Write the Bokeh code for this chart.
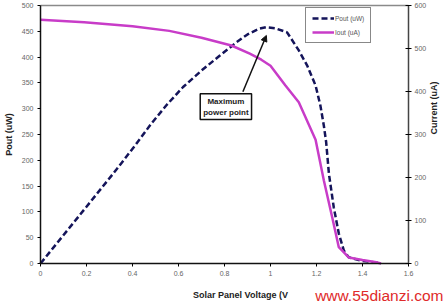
import math
from bokeh.plotting import figure
from bokeh.models import (LinearAxis, Range1d, Label, Arrow, NormalHead, Legend, LegendItem,
                          NumeralTickFormatter, FixedTicker)
from bokeh.embed import file_html
from bokeh.resources import INLINE

# ---- data ----
voltage_p = [0, 0.2, 0.33, 0.41, 0.48, 0.55, 0.62, 0.7, 0.78, 0.85, 0.9, 0.95, 0.98, 1.02, 1.072,
             1.123, 1.159, 1.196, 1.217, 1.232, 1.242, 1.254, 1.275, 1.297, 1.319, 1.34, 1.40, 1.46, 1.48]
pout_uw = [0, 110, 182, 228, 270, 308, 342, 374, 403, 428, 444, 455, 458, 456, 448,
           413, 384, 345, 306, 267, 235, 174, 109, 58, 25, 12, 5, 2, 0]

voltage_i = [0, 0.19, 0.4, 0.56, 0.7, 0.83, 0.91, 0.96, 1.0, 1.065, 1.123, 1.196, 1.232, 1.268,
             1.297, 1.34, 1.40, 1.46, 1.48]
iout_ua = [567, 561, 552, 541, 525, 507, 488, 474, 460, 414, 375, 288, 193, 108,
           38, 14, 8, 3, 0]

x_ticks = [0, 0.2, 0.4, 0.6, 0.8, 1.0, 1.2, 1.4, 1.6]
left_ticks = [0, 50, 100, 150, 200, 250, 300, 350, 400, 450, 500]
right_ticks = [0, 100, 200, 300, 400, 500, 600]

FONT = "Liberation Sans"
TICK_COLOR = "#666666"

W, H = 446, 306
FL, FR, FT, FB = 40, 408, 5, 263          # plot box in pixels
xs = (FR - FL) / 1.6                      # px per volt
ys = (FB - FT) / 500.0                    # px per uW
cs = (FB - FT) / 600.0                    # px per uA

p = figure(width=W, height=H, output_backend="svg", toolbar_location=None,
           x_range=Range1d(-FL / xs, (W - FL) / xs),
           y_range=Range1d(-(H - FB) / ys, FB / ys),
           min_border=0)
p.extra_y_ranges = {"cur": Range1d(-(H - FB) / cs, FB / cs)}
p.background_fill_color = "white"
p.border_fill_color = "white"
p.outline_line_color = None
p.grid.visible = False

# x axis at y = 0
xa = p.xaxis[0]
xa.fixed_location = 0
xa.bounds = (0, 1.6)
xa.ticker = FixedTicker(ticks=x_ticks)
xa.formatter = NumeralTickFormatter(format="0.[0]")
xa.axis_line_color = "#111111"
xa.axis_line_width = 1.5
xa.major_tick_in = 0
xa.major_tick_out = 3
xa.minor_tick_line_color = None
xa.major_label_text_font = FONT
xa.major_label_text_font_size = "7px"
xa.major_label_text_color = TICK_COLOR
xa.major_label_standoff = 4

# top border line
ta = LinearAxis(fixed_location=500, bounds=(0, 1.6), ticker=FixedTicker(ticks=[]))
ta.axis_line_color = "#8a8a8a"
ta.axis_line_width = 1.5
ta.major_tick_line_color = None
ta.minor_tick_line_color = None
ta.major_label_text_font_size = "0px"
p.add_layout(ta, "above")

# left axis at x = 0
ya = p.yaxis[0]
ya.fixed_location = 0
ya.bounds = (0, 500)
ya.ticker = FixedTicker(ticks=left_ticks)
ya.axis_line_color = "#111111"
ya.axis_line_width = 1.5
ya.major_tick_in = 0
ya.major_tick_out = 3
ya.minor_tick_line_color = None
ya.major_label_text_font = FONT
ya.major_label_text_font_size = "7px"
ya.major_label_text_color = TICK_COLOR
ya.major_label_standoff = 4
ya.axis_label = "Pout (uW)"
ya.axis_label_text_font = FONT
ya.axis_label_text_font_size = "9px"
ya.axis_label_text_font_style = "bold"
ya.axis_label_text_color = "#222222"
ya.axis_label_standoff = 5

# right axis at x = 1.6
ra = LinearAxis(y_range_name="cur", ticker=FixedTicker(ticks=right_ticks),
                fixed_location=1.6, bounds=(0, 600))
ra.axis_line_color = "#444444"
ra.axis_line_width = 1.5
ra.major_tick_in = 3
ra.major_tick_out = 3
ra.minor_tick_line_color = None
ra.major_label_text_font = FONT
ra.major_label_text_font_size = "7px"
ra.major_label_text_color = TICK_COLOR
ra.major_label_standoff = 3
ra.axis_label = "Current (uA)"
ra.axis_label_text_font = FONT
ra.axis_label_text_font_size = "9px"
ra.axis_label_text_font_style = "bold"
ra.axis_label_text_color = "#222222"
ra.axis_label_standoff = 5
try:
    ra.axis_label_orientation = math.pi / 2
except Exception:
    pass
p.add_layout(ra, "right")

# lines
r_p = p.line(voltage_p, pout_uw, line_color="#14145a", line_width=2.5, line_dash="6 3")
r_i = p.line(voltage_i, iout_ua, y_range_name="cur", line_color="#c83cc8", line_width=2.5)

legend = Legend(items=[LegendItem(label="Pout (uW)", renderers=[r_p]),
                       LegendItem(label="Iout (uA)", renderers=[r_i])],
                location=(305, 263), orientation="vertical",
                label_text_font=FONT, label_text_font_size="6.5px", label_text_color="#555555",
                glyph_width=22, glyph_height=8, label_height=8, spacing=6,
                padding=6, margin=0, label_standoff=1,
                border_line_color="#111111", border_line_width=1,
                background_fill_color="white", background_fill_alpha=1)
p.add_layout(legend, "center")

# annotation
p.add_layout(Arrow(end=NormalHead(size=6, fill_color="#111111", line_color="#111111"),
                   x_start=0.88, y_start=333, x_end=0.982, y_end=442,
                   line_color="#111111", line_width=1.5))
p.add_layout(Label(x=0.806, y=304, text="Maximum\npower point", text_align="center",
                   text_baseline="middle", text_font=FONT, text_font_size="8px",
                   text_font_style="bold", text_color="#222222",
                   border_line_color="#111111", border_line_width=1.5,
                   background_fill_color="white", padding=3))

# bottom texts
p.add_layout(Label(x=(240 - FL) / xs, y=-(294 - FB) / ys,
                   text="Solar Panel Voltage (V", text_align="center",
                   text_baseline="middle", text_font=FONT, text_font_size="9px",
                   text_font_style="bold", text_color="#222222"))
p.add_layout(Label(x=(W - 3 - FL) / xs, y=-(295 - FB) / ys,
                   text="www.55dianzi.com", text_align="right",
                   text_baseline="middle", text_font=FONT, text_font_size="15.5px",
                   text_color="#e02a2a"))

open("out.html", "w").write(file_html(p, INLINE))
